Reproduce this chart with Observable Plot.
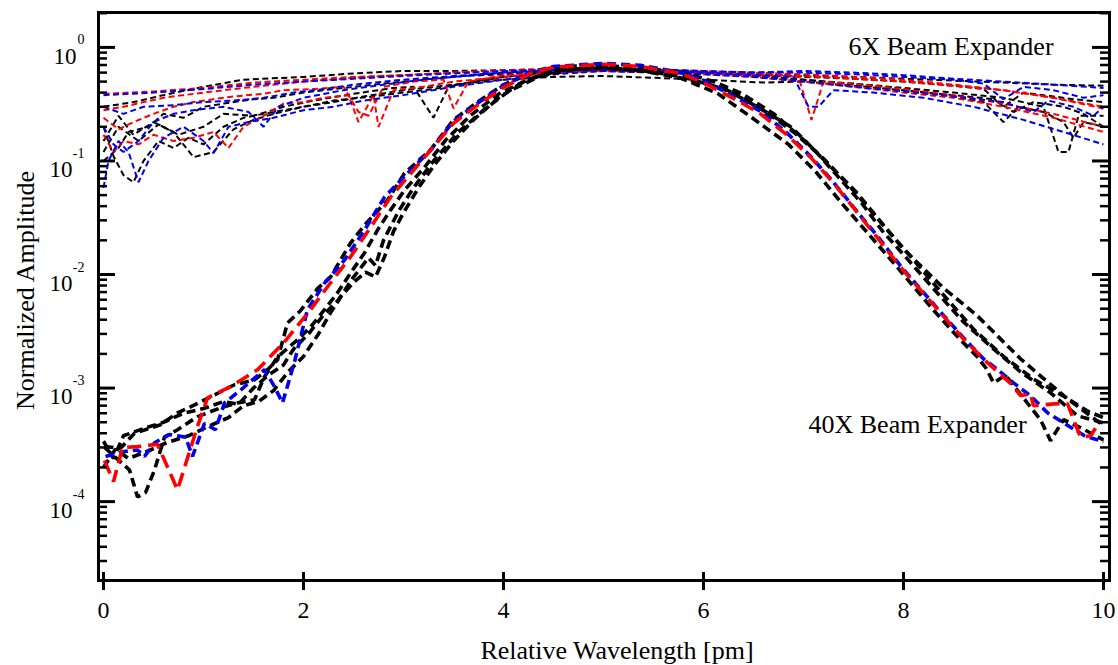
<!DOCTYPE html>
<html><head><meta charset="utf-8">
<script src="https://cdn.jsdelivr.net/npm/d3@7"></script>
<script src="https://cdn.jsdelivr.net/npm/@observablehq/plot@0.6"></script>
<style>body{margin:0;background:#fff} #chart svg{display:block}</style>
</head><body><div id="chart"></div>
<script>
// ---------- 40X beam expander (thick dashed) : [wavelength pm, amplitude]
const x40Red = [[0.01,2.3e-4],[0.10,1.5e-4],[0.19,3.0e-4],[0.34,3.05e-4],[0.54,3.2e-4],[0.74,1.27e-4],[0.94,4.6e-4],[1.04,8.2e-4],[1.27,1.03e-3],[1.54,1.45e-3],[1.81,2.55e-3],[2.07,4.9e-3],[2.24,7.8e-3],[2.47,0.0143],[2.67,0.026],[2.87,0.048],[3.27,0.124],[3.50,0.215],[3.74,0.31],[4.00,0.445],[4.27,0.59],[4.50,0.67],[5.00,0.71],[5.37,0.68],[5.77,0.59],[6.00,0.49],[6.34,0.34],[6.57,0.26],[6.84,0.168],[7.07,0.108],[7.30,0.064],[7.54,0.035],[7.74,0.021],[7.97,0.0116],[8.17,0.0073],[8.37,0.0046],[8.60,0.0027],[8.84,0.00167],[9.07,0.0011],[9.17,0.00086],[9.27,0.00089],[9.30,0.0007],[9.54,0.00073],[9.64,0.00073],[9.74,0.00043],[9.77,0.00037],[9.87,0.00038],[9.94,0.00047]];
const x40Blue = [[0.02,2.5e-4],[0.19,2.75e-4],[0.34,2.85e-4],[0.41,2.5e-4],[0.51,3.3e-4],[0.66,3.9e-4],[0.82,3.7e-4],[0.89,2.5e-4],[1.01,4.9e-4],[1.12,4.3e-4],[1.21,7.4e-4],[1.37,9.6e-4],[1.61,1.45e-3],[1.71,1.03e-3],[1.79,7.4e-4],[1.91,1.7e-3],[1.97,2.8e-3],[2.04,4.9e-3],[2.21,8.4e-3],[2.41,0.0134],[2.61,0.0246],[2.81,0.048],[3.07,0.083],[3.27,0.124],[3.50,0.224],[3.74,0.322],[4.00,0.463],[4.27,0.603],[4.50,0.68],[5.00,0.723],[5.37,0.695],[5.77,0.603],[6.00,0.513],[6.34,0.356],[6.57,0.274],[6.84,0.175],[7.07,0.110],[7.30,0.065],[7.54,0.0354],[7.74,0.0218],[7.97,0.0119],[8.17,0.00746],[8.37,0.00468],[8.60,0.00277],[8.80,0.00181],[8.93,0.00148],[9.10,0.00111],[9.27,0.000855],[9.44,0.000606],[9.60,0.000495],[9.81,0.00038],[10.0,0.000337]];
const x40Black1 = [[0.01,3.05e-4],[0.17,2.95e-4],[0.31,4.0e-4],[0.57,4.75e-4],[0.74,6.05e-4],[0.91,7.1e-4],[1.31,1.07e-3],[1.51,1.18e-3],[1.64,1.45e-3],[1.74,1.77e-3],[1.84,3.75e-3],[1.97,4.8e-3],[2.14,7.5e-3],[2.27,0.0095],[2.47,0.0189],[2.61,0.0272],[2.84,0.0452],[3.01,0.078],[3.27,0.125],[3.50,0.23],[3.74,0.33],[4.00,0.47],[4.30,0.6],[4.60,0.68],[5.00,0.70],[5.30,0.66],[5.70,0.57],[6.14,0.394],[6.48,0.242],[6.85,0.140],[7.12,0.081],[7.39,0.0417],[7.66,0.0222],[7.92,0.0121],[8.29,0.00497],[8.56,0.00271],[8.73,0.00192],[8.83,0.00148],[8.90,0.00111],[9.02,0.0013],[9.37,0.000526],[9.47,0.000344],[9.60,0.000526],[9.77,0.000448],[10.0,0.00035]];
const x40Black2 = [[0.01,3.0e-4],[0.26,1.9e-4],[0.34,1.1e-4],[0.42,1.2e-4],[0.51,1.9e-4],[0.61,3.7e-4],[0.74,4.3e-4],[0.94,5.6e-4],[1.17,6.7e-4],[1.34,7.4e-4],[1.51,7.9e-4],[1.61,1.26e-3],[1.74,1.88e-3],[1.94,2.66e-3],[2.07,3.45e-3],[2.21,4.9e-3],[2.34,6.9e-3],[2.47,0.0103],[2.61,0.0155],[2.74,0.0246],[2.87,0.0369],[3.01,0.0553],[3.21,0.088],[3.42,0.152],[3.67,0.252],[3.97,0.40],[4.27,0.53],[4.57,0.63],[4.97,0.67],[5.37,0.63],[5.80,0.55],[6.24,0.42],[6.58,0.285],[6.88,0.198],[7.12,0.122],[7.35,0.072],[7.59,0.0417],[7.79,0.0241],[8.03,0.014],[8.33,0.00702],[8.60,0.00382],[8.90,0.00221],[9.17,0.00139],[9.47,0.000908],[9.74,0.00057],[10.0,0.000494]];
const x40Black3 = [[0.0,2.0e-4],[0.12,2.9e-4],[0.25,2.4e-4],[0.45,2.8e-4],[0.63,3.3e-4],[0.85,3.8e-4],[1.05,4.6e-4],[1.25,5.5e-4],[1.40,7.0e-4],[1.55,7.6e-4],[1.70,9.5e-4],[1.85,1.4e-3],[2.00,1.9e-3],[2.15,3.0e-3],[2.27,4.6e-3],[2.38,6.5e-3],[2.50,8.5e-3],[2.62,0.0105],[2.72,0.0095],[2.81,0.0143],[2.90,0.024],[3.00,0.035],[3.15,0.058],[3.30,0.09],[3.50,0.15],[3.70,0.23],[3.95,0.36],[4.20,0.50],[4.50,0.62],[4.90,0.68],[5.30,0.67],[5.80,0.60],[6.10,0.50],[6.38,0.394],[6.71,0.258],[7.05,0.140],[7.52,0.0542],[7.99,0.0171],[8.40,0.0076],[8.73,0.0044],[9.17,0.00181],[9.64,0.000804],[10.0,0.000466]];
const x40Black4 = [[0.0,3.4e-4],[0.10,2.4e-4],[0.20,3.8e-4],[0.40,4.4e-4],[0.60,5.0e-4],[0.80,6.0e-4],[1.00,6.6e-4],[1.20,7.6e-4],[1.35,7.2e-4],[1.50,1.0e-3],[1.65,1.3e-3],[1.80,1.6e-3],[1.90,2.2e-3],[2.05,3.0e-3],[2.20,4.4e-3],[2.35,6.0e-3],[2.50,9.5e-3],[2.65,0.014],[2.72,0.012],[2.80,0.02],[2.95,0.036],[3.10,0.058],[3.30,0.10],[3.55,0.18],[3.80,0.28],[4.05,0.41],[4.35,0.55],[4.70,0.64],[5.00,0.66],[5.40,0.62],[5.80,0.53],[6.10,0.46],[6.30,0.40],[6.60,0.28],[6.90,0.18],[7.20,0.105],[7.50,0.055],[7.80,0.027],[8.10,0.0135],[8.40,0.0066],[8.70,0.0033],[9.00,0.0019],[9.30,0.0012],[9.60,0.00085],[9.85,0.00062],[10.0,0.00055]];

// ---------- 6X beam expander (thin dashed)
const x6Black1 = [[0,0.30],[0.3,0.33],[0.6,0.38],[1.0,0.45],[1.4,0.52],[2.0,0.55],[2.5,0.59],[3.0,0.62],[3.5,0.62],[4.0,0.63],[4.5,0.64],[5.0,0.66],[5.5,0.63],[6.0,0.60],[6.5,0.58],[7.0,0.57],[7.5,0.55],[8.0,0.53],[8.5,0.51],[9.0,0.49],[9.5,0.47],[10.0,0.46]];
const x6Black2 = [[0,0.12],[0.15,0.20],[0.35,0.15],[0.55,0.21],[0.75,0.17],[1.0,0.20],[1.2,0.26],[1.5,0.25],[1.8,0.30],[2.1,0.34],[2.5,0.39],[2.9,0.44],[3.1,0.45],[3.3,0.24],[3.45,0.45],[3.7,0.50],[4.0,0.55],[4.5,0.60],[5.0,0.64],[5.5,0.62],[6.0,0.60],[6.5,0.56],[7.0,0.52],[7.5,0.47],[8.0,0.43],[8.5,0.37],[8.8,0.33],[9.0,0.22],[9.15,0.30],[9.4,0.27],[9.6,0.22],[9.7,0.16],[9.8,0.22],[10.0,0.20]];
const x6Black3 = [[0,0.20],[0.1,0.11],[0.2,0.075],[0.3,0.065],[0.4,0.10],[0.55,0.15],[0.7,0.13],[0.85,0.16],[1.0,0.14],[1.2,0.20],[1.4,0.24],[1.6,0.26],[1.8,0.28],[2.0,0.30],[2.3,0.33],[2.6,0.37],[3.0,0.42],[3.5,0.47],[4.0,0.52],[4.5,0.55],[5.0,0.56],[5.5,0.54],[6.0,0.52],[6.6,0.49],[7.0,0.50],[7.5,0.46],[8.0,0.42],[8.5,0.38],[8.9,0.35],[9.1,0.27],[9.3,0.33],[9.6,0.30],[9.8,0.26],[10.0,0.20]];
const x6Black4 = [[0,0.15],[0.15,0.25],[0.3,0.17],[0.5,0.22],[0.7,0.18],[0.9,0.108],[1.1,0.12],[1.3,0.19],[1.5,0.23],[1.7,0.26],[2.0,0.30],[2.3,0.34],[2.7,0.37],[3.0,0.40],[3.3,0.43],[3.6,0.48],[4.0,0.55],[4.5,0.60],[5.0,0.63],[5.5,0.62],[6.0,0.60],[6.5,0.58],[7.0,0.55],[7.5,0.53],[8.0,0.50],[8.5,0.46],[8.8,0.43],[9.0,0.30],[9.2,0.40],[9.5,0.37],[9.7,0.35],[10.0,0.33]];
const x6Black5 = [[0,0.10],[0.15,0.13],[0.25,0.18],[0.45,0.20],[0.6,0.26],[0.8,0.24],[1.0,0.30],[1.2,0.32],[1.5,0.35],[1.7,0.36],[2.0,0.40],[2.4,0.44],[2.8,0.48],[3.2,0.52],[3.6,0.56],[4.0,0.58],[4.5,0.62],[5.0,0.65],[5.5,0.64],[6.0,0.60],[6.5,0.56],[7.0,0.52],[7.5,0.48],[8.0,0.44],[8.5,0.40],[9.0,0.36],[9.4,0.30],[9.55,0.12],[9.65,0.12],[9.75,0.25],[10.0,0.25]];
const x6Red1 = [[0,0.39],[0.5,0.41],[1.0,0.44],[1.5,0.49],[2.0,0.52],[2.5,0.55],[3.0,0.57],[3.5,0.60],[4.0,0.62],[4.5,0.63],[5.0,0.66],[5.5,0.63],[6.0,0.60],[6.5,0.58],[7.0,0.56],[7.5,0.53],[8.0,0.50],[8.5,0.46],[9.0,0.42],[9.5,0.36],[10.0,0.29]];
const x6Red2 = [[0,0.24],[0.15,0.19],[0.3,0.22],[0.5,0.26],[0.7,0.30],[0.9,0.33],[1.1,0.35],[1.3,0.37],[1.6,0.39],[1.8,0.42],[2.1,0.43],[2.4,0.45],[2.55,0.27],[2.65,0.25],[2.8,0.45],[3.1,0.50],[3.4,0.52],[3.5,0.29],[3.65,0.50],[4.0,0.57],[4.5,0.60],[5.0,0.63],[5.5,0.62],[6.0,0.60],[6.5,0.57],[6.95,0.55],[7.08,0.23],[7.2,0.50],[7.6,0.47],[8.0,0.43],[8.5,0.38],[9.0,0.32],[9.5,0.26],[10.0,0.20]];
const x6Red3 = [[0,0.17],[0.1,0.12],[0.2,0.15],[0.35,0.14],[0.5,0.17],[0.7,0.15],[0.9,0.16],[1.1,0.18],[1.25,0.13],[1.4,0.20],[1.6,0.25],[1.8,0.32],[2.0,0.33],[2.2,0.36],[2.45,0.38],[2.55,0.22],[2.7,0.38],[2.75,0.20],[2.9,0.42],[3.2,0.45],[3.5,0.50],[4.0,0.55],[4.5,0.60],[5.0,0.62],[5.5,0.60],[6.0,0.58],[6.5,0.55],[7.0,0.50],[7.5,0.45],[8.0,0.40],[8.5,0.36],[9.0,0.30],[9.5,0.24],[10.0,0.18]];
const x6Red4 = [[0,0.28],[0.2,0.30],[0.4,0.33],[0.6,0.36],[0.8,0.38],[1.0,0.40],[1.3,0.43],[1.6,0.46],[2.0,0.50],[2.5,0.54],[3.0,0.57],[3.5,0.60],[4.0,0.63],[4.5,0.65],[5.0,0.66],[5.5,0.64],[6.0,0.62],[6.5,0.60],[7.0,0.58],[7.5,0.55],[8.0,0.52],[8.5,0.47],[9.0,0.42],[9.5,0.36],[10.0,0.30]];
const x6Blue1 = [[0,0.38],[0.5,0.40],[1.0,0.43],[1.5,0.47],[2.0,0.50],[2.5,0.53],[3.0,0.56],[3.5,0.59],[4.0,0.62],[4.5,0.63],[5.0,0.65],[5.5,0.63],[6.0,0.61],[6.5,0.60],[7.0,0.62],[7.5,0.60],[8.0,0.57],[8.5,0.53],[9.0,0.50],[9.5,0.47],[10.0,0.44]];
const x6Blue2 = [[0,0.30],[0.2,0.26],[0.4,0.30],[0.7,0.31],[1.0,0.33],[1.3,0.34],[1.6,0.36],[1.9,0.40],[2.2,0.43],[2.5,0.47],[3.0,0.52],[3.5,0.56],[4.0,0.60],[4.5,0.62],[5.0,0.64],[5.5,0.62],[6.0,0.60],[6.5,0.57],[6.9,0.55],[7.05,0.30],[7.15,0.30],[7.3,0.42],[7.7,0.40],[8.2,0.36],[8.7,0.30],[9.2,0.23],[9.6,0.18],[10.0,0.14]];
const x6Blue3 = [[0,0.058],[0.05,0.10],[0.15,0.15],[0.25,0.12],[0.35,0.065],[0.45,0.10],[0.6,0.16],[0.8,0.20],[1.0,0.15],[1.1,0.117],[1.25,0.20],[1.45,0.22],[1.7,0.24],[2.0,0.28],[2.3,0.30],[2.6,0.34],[3.0,0.38],[3.5,0.45],[4.0,0.52],[4.5,0.58],[5.0,0.62],[5.5,0.60],[6.0,0.58],[6.5,0.55],[7.0,0.50],[7.5,0.45],[8.0,0.41],[8.5,0.37],[9.0,0.33],[9.3,0.27],[9.45,0.34],[9.7,0.30],[9.9,0.25],[10.0,0.30]];
const x6Blue4 = [[0,0.20],[0.1,0.14],[0.2,0.12],[0.35,0.15],[0.5,0.22],[0.7,0.26],[0.9,0.28],[1.2,0.30],[1.45,0.27],[1.6,0.20],[1.75,0.30],[2.0,0.36],[2.4,0.42],[2.8,0.47],[3.2,0.52],[3.6,0.56],[4.0,0.60],[4.5,0.63],[5.0,0.65],[5.5,0.64],[6.0,0.62],[6.5,0.60],[7.0,0.60],[7.5,0.58],[8.0,0.55],[8.5,0.52],[8.8,0.48],[9.0,0.35],[9.2,0.45],[9.5,0.42],[9.8,0.36],[10.0,0.38]];

// ---------- axes
const xTicks = [0, 2, 4, 6, 8, 10];
const yMajorTicks = [1e-4, 1e-3, 1e-2, 1e-1, 1];
const yTickExponents = ["-4", "-3", "-2", "-1", "0"];
const xLabel = "Relative Wavelength [pm]";
const yLabel = "Normalized Amplitude";
const label6X = "6X Beam Expander";
const label40X = "40X Beam Expander";

const RED = "#ff0000", BLUE = "#0000ee", BLACK = "#000000";
const series = [
  ["6X", BLACK, x6Black1], ["6X", BLACK, x6Black2], ["6X", BLACK, x6Black3], ["6X", BLACK, x6Black4], ["6X", BLACK, x6Black5],
  ["6X", RED, x6Red1], ["6X", RED, x6Red2], ["6X", RED, x6Red3], ["6X", RED, x6Red4],
  ["6X", BLUE, x6Blue1], ["6X", BLUE, x6Blue2], ["6X", BLUE, x6Blue3], ["6X", BLUE, x6Blue4],
  ["40X", BLACK, x40Black1], ["40X", BLACK, x40Black2], ["40X", BLACK, x40Black3], ["40X", BLACK, x40Black4],
  ["40X", BLUE, x40Blue], ["40X", RED, x40Red]
];
const rows = series.flatMap(([group, color, pts], i) => pts.map(([x, y]) => ({id: i, group, color, x, y})));
const rows6 = rows.filter(r => r.group === "6X");
const rows40 = c => rows.filter(r => r.group === "40X" && r.color === c);

const yMinorTicks = [];
for (const d of [1e-5, 1e-4, 1e-3, 1e-2, 1e-1, 1]) for (const m of [2,3,4,5,6,7,8,9]) {
  const v = d * m; if (v > 2.02e-5 && v < 2.03) yMinorTicks.push(v);
}
const yLabels = yMajorTicks.map((v, i) => ({v, e: yTickExponents[i]}));

const W = 1118, H = 665, mL = 98, mR = 9, mT = 12, mB = 85;
const fw = W - mL - mR, fh = H - mT - mB;
const font = "'Liberation Serif', 'Times New Roman', serif";

const chart = Plot.plot({
  width: W, height: H, marginLeft: mL, marginRight: mR, marginTop: mT, marginBottom: mB,
  x: {domain: [-0.05, 10.06], axis: null},
  y: {type: "log", domain: [2.02e-5, 2.03], axis: null},
  color: {type: "identity"},
  style: {fontFamily: font, color: "#000", background: "#fff", overflow: "visible"},
  marks: [
    Plot.line(rows6, {x: "x", y: "y", z: "id", stroke: "color", strokeWidth: 2, strokeDasharray: "6,3.5", strokeLinecap: "butt", strokeLinejoin: "miter", clip: true}),
    Plot.line(rows40(BLACK), {x: "x", y: "y", z: "id", stroke: BLACK, strokeWidth: 3.6, strokeDasharray: "9,5", strokeLinecap: "butt", strokeLinejoin: "miter", clip: true}),
    Plot.line(rows40(BLUE), {x: "x", y: "y", stroke: BLUE, strokeWidth: 3.6, strokeDasharray: "9,5", strokeLinecap: "butt", strokeLinejoin: "miter", clip: true}),
    Plot.line(rows40(RED), {x: "x", y: "y", stroke: RED, strokeWidth: 3.6, strokeDasharray: "14,7", strokeLinecap: "butt", strokeLinejoin: "miter", clip: true}),
    Plot.frame({stroke: "#000", strokeWidth: 3}),
    Plot.ruleY(yMajorTicks, {y: d => d, insetRight: fw - 17, strokeWidth: 3}),
    Plot.ruleY(yMinorTicks, {y: d => d, insetRight: fw - 9, strokeWidth: 2.5}),
    Plot.ruleY(yMajorTicks, {y: d => d, insetLeft: fw - 17, strokeWidth: 3}),
    Plot.ruleY(yMinorTicks, {y: d => d, insetLeft: fw - 9, strokeWidth: 2.5}),
    Plot.ruleX(xTicks, {x: d => d, insetTop: fh - 8, insetBottom: -10, strokeWidth: 3}),
    Plot.text(xTicks, {x: d => d, text: d => String(d), frameAnchor: "bottom", lineAnchor: "top", dy: 20, fontSize: 24}),
    Plot.text(yLabels.filter(d => d.e === "0"), {y: "v", text: () => "10", frameAnchor: "left", textAnchor: "end", lineAnchor: "top", dx: -22, dy: 0, fontSize: 23}),
    Plot.text(yLabels.filter(d => d.e !== "0"), {y: "v", text: () => "10", frameAnchor: "left", textAnchor: "end", lineAnchor: "top", dx: -26, dy: 0, fontSize: 23}),
    Plot.text(yLabels, {y: "v", text: "e", frameAnchor: "left", textAnchor: "end", lineAnchor: "bottom", dx: -14, dy: -3, fontSize: 14}),
    Plot.text([xLabel], {text: d => d, frameAnchor: "bottom", textAnchor: "middle", lineAnchor: "bottom", dx: 13, dy: 78, fontSize: 26}),
    Plot.text([yLabel], {text: d => d, frameAnchor: "left", textAnchor: "middle", rotate: -90, lineAnchor: "bottom", dx: -65, dy: -6, fontSize: 26}),
    Plot.text([label6X], {x: () => 7.45, y: () => 0.85, text: d => d, textAnchor: "start", lineAnchor: "bottom", fontSize: 26}),
    Plot.text([label40X], {x: () => 7.05, y: () => 4.04e-4, text: d => d, textAnchor: "start", lineAnchor: "bottom", fontSize: 26})
  ]
});
document.getElementById("chart").appendChild(chart);
</script>
</body></html>
